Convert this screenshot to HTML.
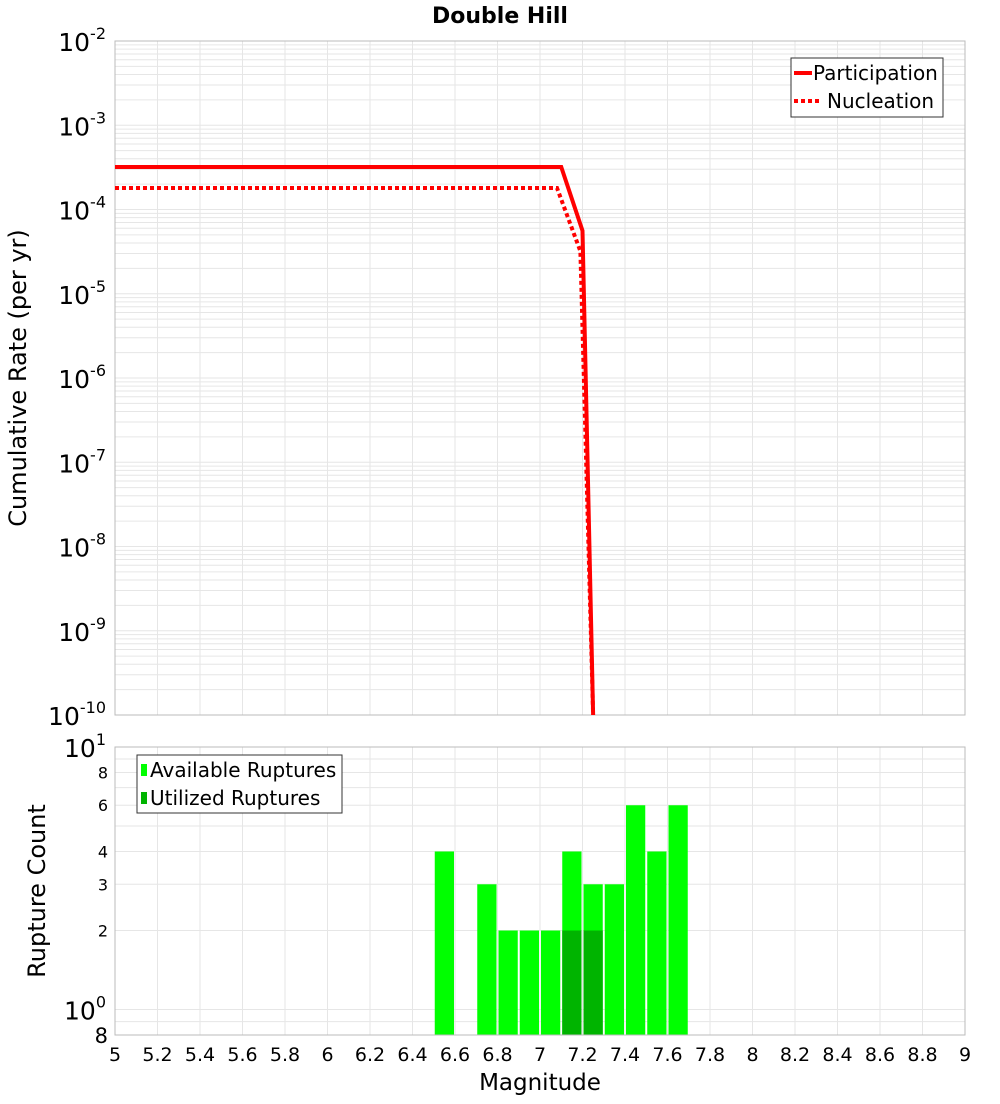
<!DOCTYPE html>
<html><head><meta charset="utf-8"><style>
body{margin:0;background:#fff;font-family:"DejaVu Sans","Liberation Sans",sans-serif}
</style></head><body>
<svg id="c" width="1000" height="1100" xmlns="http://www.w3.org/2000/svg" style="font-family:'DejaVu Sans','Liberation Sans',sans-serif"></svg>
<script>
const partMag=[5,7.1,7.2,7.25];
const partRate=[3.2e-4,3.2e-4,5.6e-5,1e-10];
const nuclMag=[5,7.08,7.19,7.25];
const nuclRate=[1.8e-4,1.8e-4,3.2e-5,1e-10];
const binMag=[6.55,6.75,6.85,6.95,7.05,7.15,7.25,7.35,7.45,7.55,7.65];
const availCount=[4,3,2,2,2,4,3,3,6,4,6];
const usedMag=[7.15,7.25];
const usedCount=[2,2];
const xTicks=[5,5.2,5.4,5.6,5.8,6,6.2,6.4,6.6,6.8,7,7.2,7.4,7.6,7.8,8,8.2,8.4,8.6,8.8,9];
const topExp=[-2,-3,-4,-5,-6,-7,-8,-9,-10];
const botTicks=[2,3,4,6,8];

const svg=document.getElementById('c');
const NS='http://www.w3.org/2000/svg';
function mk(t,a,p){const e=document.createElementNS(NS,t);for(const k in a)e.setAttribute(k,a[k]);(p||svg).appendChild(e);return e;}
const L=115,R=965,T1=41,B1=715,T2=747,B2=1035;
const x=m=>L+(m-5)/4*(R-L);
const y1=v=>T1+(-2-Math.log10(v))/8*(B1-T1);
const y2=v=>B2-(Math.log10(v)-Math.log10(0.8))/(1-Math.log10(0.8))*(B2-T2);

let t=mk('text',{x:500,y:23,'text-anchor':'middle','font-size':22,'font-weight':'bold'});t.textContent='Double Hill';


const g1=mk('g',{});
for(let e=-10;e<-2;e++)for(let k=1;k<10;k++){const yy=y1(k*Math.pow(10,e));mk('line',{x1:L,x2:R,y1:yy,y2:yy,stroke:'#e6e6e6','stroke-width':1},g1);}
xTicks.forEach(m=>mk('line',{x1:x(m),x2:x(m),y1:T1,y2:B1,stroke:'#e6e6e6'},g1));
mk('rect',{x:L,y:T1,width:R-L,height:B1-T1,fill:'none',stroke:'#bbb'});
topExp.forEach(e=>{const yy=y1(Math.pow(10,e));const tx=mk('text',{x:106,y:yy+10,'text-anchor':'end','font-size':25});
tx.innerHTML='10<tspan dy="-12" font-size="16">'+e+'</tspan>';});
t=mk('text',{x:26,y:378,'text-anchor':'middle','font-size':24,transform:'rotate(-90 26 378)'});t.textContent='Cumulative Rate (per yr)';


let p=mk('polyline',{points:partMag.map((m,i)=>x(m)+','+y1(partRate[i])).join(' '),fill:'none',stroke:'#f00','stroke-width':4});

p=mk('polyline',{points:nuclMag.map((m,i)=>x(m)+','+y1(nuclRate[i])).join(' '),fill:'none',stroke:'#f00','stroke-width':4,'stroke-dasharray':'4,3'});


const lg=mk('g',{});
mk('rect',{x:791,y:58,width:152,height:59,fill:'#fff',stroke:'#333'},lg);
mk('line',{x1:794,x2:812,y1:73,y2:73,stroke:'#f00','stroke-width':4},lg);
mk('line',{x1:794,x2:822,y1:101,y2:101,stroke:'#f00','stroke-width':4,'stroke-dasharray':'4,3'},lg);
t=mk('text',{x:813,y:80,'font-size':20},lg);t.textContent='Participation';
t=mk('text',{x:827,y:108,'font-size':20},lg);t.textContent='Nucleation';

const g2=mk('g',{});
[0.8,0.9,1,2,3,4,5,6,7,8,9,10].forEach(v=>mk('line',{x1:L,x2:R,y1:y2(v),y2:y2(v),stroke:'#e6e6e6'},g2));
xTicks.forEach(m=>mk('line',{x1:x(m),x2:x(m),y1:T2,y2:B2,stroke:'#e6e6e6'},g2));

binMag.forEach((m,i)=>{const r=mk('rect',{x:x(m-0.05)+1,y:y2(availCount[i]),width:x(m+0.05)-x(m-0.05)-2,height:B2-y2(availCount[i]),fill:'#00ff00'});
});
usedMag.forEach((m,i)=>{const r=mk('rect',{x:x(m-0.05)+1,y:y2(usedCount[i]),width:x(m+0.05)-x(m-0.05)-2,height:B2-y2(usedCount[i]),fill:'#00b400'});
});
mk('rect',{x:L,y:T2,width:R-L,height:B2-T2,fill:'none',stroke:'#bbb'});

botTicks.forEach(v=>{const tx=mk('text',{x:108,y:y2(v)+6,'text-anchor':'end','font-size':16});tx.textContent=v;
});
t=mk('text',{x:106,y:y2(10)+10,'text-anchor':'end','font-size':25});t.innerHTML='10<tspan dy="-12" font-size="16">1</tspan>';
t=mk('text',{x:106,y:y2(1)+10,'text-anchor':'end','font-size':25});t.innerHTML='10<tspan dy="-12" font-size="16">0</tspan>';
t=mk('text',{x:108,y:1043,'text-anchor':'end','font-size':21});t.textContent='8';
t=mk('text',{x:45,y:891,'text-anchor':'middle','font-size':24,transform:'rotate(-90 45 891)'});t.textContent='Rupture Count';


xTicks.forEach(m=>{const tx=mk('text',{x:x(m),y:1061,'text-anchor':'middle','font-size':19});tx.textContent=+m.toFixed(1);
});
t=mk('text',{x:540,y:1090,'text-anchor':'middle','font-size':23});t.textContent='Magnitude';


const lg2=mk('g',{});
mk('rect',{x:137,y:755,width:205,height:58,fill:'#fff',stroke:'#333'},lg2);
mk('rect',{x:141,y:764,width:6,height:12,fill:'#00ff00'},lg2);
mk('rect',{x:141,y:792,width:6,height:12,fill:'#00b400'},lg2);
t=mk('text',{x:150,y:777,'font-size':20},lg2);t.textContent='Available Ruptures';
t=mk('text',{x:150,y:805,'font-size':20},lg2);t.textContent='Utilized Ruptures';
</script>
</body></html>
